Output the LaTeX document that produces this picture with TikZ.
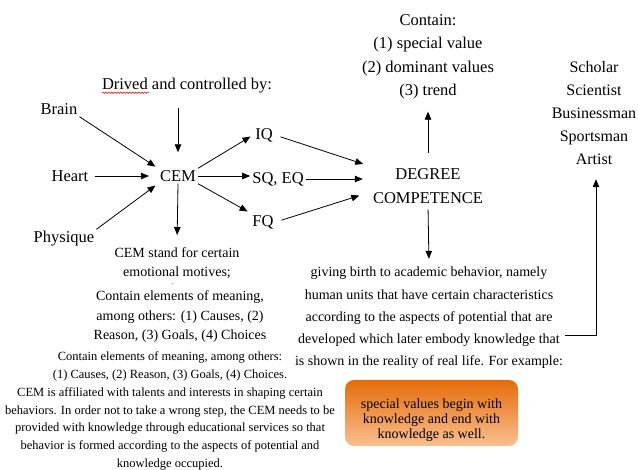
\documentclass[tikz,border=0pt]{standalone}
\usepackage{fontspec}
\setmainfont{Liberation Serif}
\usetikzlibrary{arrows.meta,decorations.pathmorphing}
\definecolor{boxtop}{RGB}{228,108,10}
\definecolor{boxmid}{RGB}{242,236,230}
\definecolor{boxbot}{RGB}{250,192,144}
\newcommand{\bigsize}{\fontsize{16.5}{23.5}\selectfont}
\newcommand{\midsize}{\fontsize{14}{19.5}\selectfont}
\newcommand{\smallsize}{\fontsize{12.5}{17.7}\selectfont}
\begin{document}
\begin{tikzpicture}[x=1pt,y=-1pt,
	lbl/.style={inner sep=2pt,font=\bigsize,align=center},
	txt/.style={inner sep=2pt,font=\midsize,align=center},
	arr/.style={-{Triangle[length=8pt,width=6.5pt]},line width=0.8pt},
	spell/.style={red,line width=0.5pt,decorate,decoration={snake,amplitude=0.8pt,segment length=3pt}},
	examplebox/.style={rounded corners=9pt,top color=boxtop,middle color=boxmid,bottom color=boxbot,minimum width=173pt,minimum height=66pt,inner sep=0pt,align=center,font=\fontsize{14}{15}\selectfont}]
	\useasboundingbox (0,0) rectangle (638,470);
	% labels
	\node[lbl] (contain) at (428,57) {Contain:\\(1) special value\\(2) dominant values\\(3) trend};
	\node[lbl,font=\fontsize{16}{23.2}\selectfont] (jobs) at (594,113) {Scholar\\Scientist\\Businessman\\Sportsman\\Artist};
	\node[lbl] (driven) at (187,86) {Drived and controlled by:};
	\node[lbl] (brain) at (59,109) {Brain};
	\node[lbl] (heart) at (70,176) {Heart};
	\node[lbl] (physique) at (64,239) {Physique};
	\node[lbl] (cem) at (178,176) {CEM};
	\node[lbl] (iq) at (264,135) {IQ};
	\node[lbl] (sqeq) at (278,179) {SQ, EQ};
	\node[lbl] (fq) at (263,222) {FQ};
	\node[lbl] (degree) at (428,186) {DEGREE\\COMPETENCE};
	% texts
	\node[txt] (cemdef) at (177,263) {CEM stand for certain\\emotional motives;};
	\node[inner sep=0pt,text height=1pt,text depth=0pt,font=\fontsize{7}{7}\selectfont] (dot) at (173,284) {.};
	\node[txt] (elements) at (180,317) {Contain elements of meaning,\\among others: (1) Causes, (2)\\Reason, (3) Goals, (4) Choices};
	\node[txt,font=\smallsize] (affiliated) at (170,411) {Contain elements of meaning, among others:\\(1) Causes, (2) Reason, (3) Goals, (4) Choices.\\CEM is affiliated with talents and interests in shaping certain\\behaviors. In order not to take a wrong step, the CEM needs to be\\provided with knowledge through educational services so that\\behavior is formed according to the aspects of potential and\\knowledge occupied.};
	\node[txt,font=\fontsize{14}{22.3}\selectfont] (giving) at (429,318) {giving birth to academic behavior, namely\\human units that have certain characteristics\\according to the aspects of potential that are\\developed which later embody knowledge that\\is shown in the reality of real life. For example:};
	\node[examplebox] (example) at (431.5,413) {\rule{0pt}{24pt}special values begin with\\knowledge and end with\\knowledge as well.};
	% arrows
	\draw[arr,shorten <=12pt,shorten >=16pt] (driven.south -| cem.north) -- (cem.north);
	\draw[arr,shorten >=3pt] (brain.south east) -- (cem.north west);
	\draw[arr,shorten <=4pt,shorten >=9pt] (heart.east) -- (cem.west);
	\draw[arr,shorten >=3pt] (physique.north east) -- (cem.south west);
	\draw[arr,shorten >=10pt] (cem.south) -- (cemdef.north);
	\draw[arr,shorten >=3pt] (cem.north east) -- (iq.west);
	\draw[arr] (cem.east) -- (cem.east -| sqeq.west);
	\draw[arr,shorten >=3pt] (cem.south east) -- (fq.north west);
	\draw[arr,shorten <=6pt,shorten >=8pt] (iq.east) -- (degree.north west);
	\draw[arr,shorten >=8pt] (sqeq.east) -- (sqeq.east -| degree.west);
	\draw[arr,shorten <=6pt,shorten >=12pt] (fq.east) -- ([yshift=-6pt]degree.west);
	\draw[arr,shorten <=14pt,shorten >=10pt] (degree.north) -- (contain.south);
	\draw[arr,shorten <=4pt,shorten >=6pt] (degree.south) -- (giving.north);
	\draw[arr,shorten >=12pt] ([yshift=-17pt]giving.east) -| ([xshift=2pt]jobs.south);
	\draw[spell] ([shift={(2pt,3pt)}]driven.south west) -- ++(47,0);
\end{tikzpicture}
\end{document}
